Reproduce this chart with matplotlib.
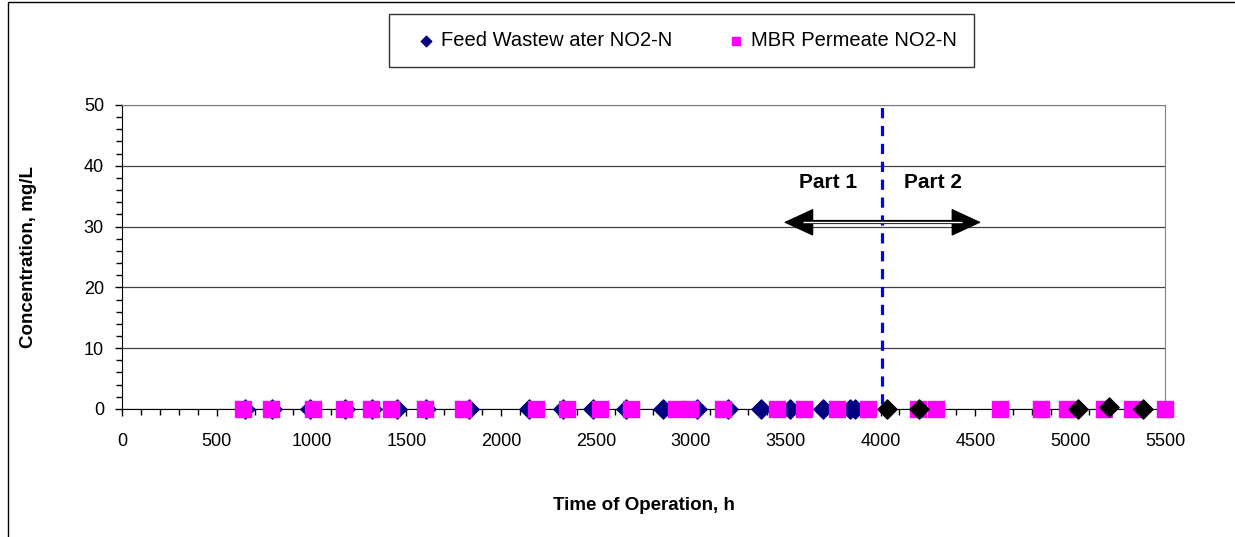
import numpy as np
import matplotlib
matplotlib.use("Agg")
import matplotlib.pyplot as plt
from matplotlib.ticker import MultipleLocator
from matplotlib.patches import Rectangle

plt.rcParams['font.family'] = ['Liberation Sans', 'DejaVu Sans']

# feed wastewater NO2-N (part 1, navy)
feed_t = [650, 790, 990, 1175, 1320, 1449, 1605, 1830, 2148, 2324, 2486, 2658,
          2851, 3034, 3197, 3368, 3523, 3698, 3839, 3866]
feed_c = [0.0] * len(feed_t)
# feed wastewater NO2-N (part 2, black points)
feed2_t = [4032, 4204, 5043, 5206, 5382]
feed2_c = [0.0, 0.0, 0.0, 0.3, 0.0]
# MBR permeate NO2-N
perm_t = [640, 784, 1006, 1171, 1315, 1417, 1600, 1797, 2183, 2348, 2521, 2684,
          2920, 2995, 3168, 3452, 3596, 3768, 3932, 4199, 4292, 4630, 4844, 4985,
          5180, 5324, 5498]
perm_c = [0.0] * len(perm_t)

split_t = 4010
arrow_x = [3490, 4530]
arrow_y = 30.7

fig = plt.figure(figsize=(12.35, 5.37), dpi=100)
ax = fig.add_axes([0.0988, 0.2384, 0.8445, 0.5661])

# figure frame (left and top edges visible)
fig.patches.append(Rectangle((8 / 1235, -0.1), 1.2, 1.1 - 1.5 / 537, transform=fig.transFigure,
                             fill=False, edgecolor='black', linewidth=1.0))

ax.scatter(feed_t, feed_c, marker='D', s=95, color='#000080', zorder=3,
           label='Feed Wastew ater NO2-N', clip_on=False)
ax.scatter(perm_t, perm_c, marker='s', s=130, color='#FF00FF', zorder=4,
           label='MBR Permeate NO2-N', clip_on=False)
ax.scatter(feed2_t, feed2_c, marker='D', s=95, color='black', zorder=5, clip_on=False)

ax.plot([split_t, split_t], [0.8, 50], color='#0000FF', lw=2.3, linestyle=(0, (3.2, 2.4)), zorder=2)

# double-line arrow with filled heads
ax.annotate('', xy=(arrow_x[0], arrow_y), xytext=(arrow_x[1], arrow_y),
            arrowprops=dict(arrowstyle='<|-|>,head_length=1.3,head_width=0.6', color='black',
                            lw=1, mutation_scale=15, shrinkA=0, shrinkB=0))
ax.plot([arrow_x[0] + 100, arrow_x[1] - 100], [arrow_y, arrow_y], color='black', lw=3, zorder=3,
        solid_capstyle='butt')
ax.plot([arrow_x[0] + 100, arrow_x[1] - 100], [arrow_y, arrow_y], color='white', lw=1, zorder=3,
        solid_capstyle='butt')
ax.text(3723, 37.2, 'Part 1', fontsize=15, fontweight='bold', ha='center', va='center')
ax.text(4277, 37.2, 'Part 2', fontsize=15, fontweight='bold', ha='center', va='center')

ax.set_xlim(0, 5500)
ax.set_ylim(0, 50)
ax.xaxis.set_major_locator(MultipleLocator(500))
ax.xaxis.set_minor_locator(MultipleLocator(100))
ax.yaxis.set_major_locator(MultipleLocator(10))
ax.yaxis.set_minor_locator(MultipleLocator(2))
ax.tick_params(axis='both', which='major', labelsize=13, length=5, width=1, color='black')
ax.tick_params(axis='both', which='minor', length=4, width=1, color='black')
ax.tick_params(axis='x', pad=12)
ax.tick_params(axis='y', pad=8)
ax.grid(axis='y', which='major', color='#404040', lw=0.9)
ax.set_axisbelow(True)
for s in ['top', 'right']:
    ax.spines[s].set_color('#808080')
for s in ['left', 'bottom']:
    ax.spines[s].set_color('black')

ax.set_xlabel('Time of Operation, h', fontsize=13.5, fontweight='bold', labelpad=34)
ax.set_ylabel('Concentration, mg/L', fontsize=13.5, fontweight='bold', labelpad=34)

leg = fig.legend(loc='center', bbox_to_anchor=(681.5 / 1235, 1 - 40.5 / 537), ncol=2,
                 frameon=True, fancybox=False, edgecolor='black', fontsize=14.5,
                 markerscale=0.55, handletextpad=-0.25, columnspacing=2.15,
                 borderpad=0.85, handlelength=2.0)
leg.get_frame().set_linewidth(1.0)

fig.savefig('out.png', dpi=100)
